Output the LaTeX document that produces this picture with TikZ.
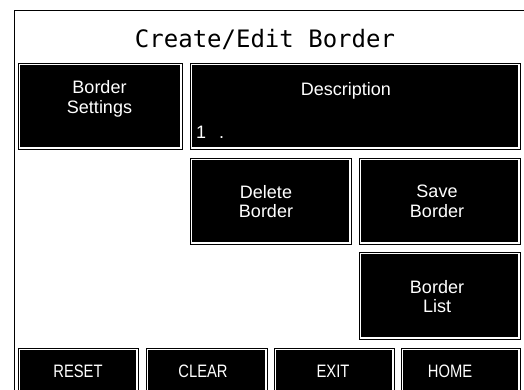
\documentclass[tikz,border=0pt]{standalone}
\usepackage{fontspec}
\setmainfont{Liberation Sans}
\newfontfamily\titlefont{DejaVu Sans Mono}
\newfontfamily\capsfont[FakeStretch=0.82]{Liberation Sans}
\begin{document}
\begin{tikzpicture}[x=1pt,y=-1pt,
  btnbox/.style={draw=black, line width=1pt, double=white, double distance=1.8pt, fill=black, inner sep=0pt},
  lbl/.style={text=white, font=\fontsize{18}{19.5}\selectfont, align=center, inner sep=0pt},
  capslbl/.style={text=white, font=\capsfont\fontsize{18}{19.5}\selectfont, inner sep=0pt, anchor=base},
  frameline/.style={line width=1.8pt, line cap=rect}]
\useasboundingbox (0,0) rectangle (524,389);
% outer frame
\coordinate (fbl) at (14.5,400);
\coordinate (ftl) at (14.5,10.5);
\coordinate (ftr) at (530,10.5);
\draw[frameline] (fbl) -- (ftl) -- (ftr);
% title
\node[font=\titlefont\fontsize{24}{26}\selectfont, anchor=base, inner sep=0pt] (title) at (265,47) {Create/Edit Border};
% buttons: sizes = outer box minus 3.8
\newcommand\mkbtn[5]{%
  \node[btnbox, anchor=north west, minimum width=#4-#2-3.8pt, minimum height=#5-#3-3.8pt] (#1) at (#2+1.9,#3+1.9) {};}
\mkbtn{settings}{17}{62}{182}{149}
\mkbtn{desc}{189}{62}{520}{149}
\mkbtn{delete}{189}{157}{351}{244}
\mkbtn{save}{358}{157}{520}{244}
\mkbtn{list}{358}{251}{520}{339}
\mkbtn{reset}{17}{347}{138}{400}
\mkbtn{clear}{145}{347}{267}{400}
\mkbtn{exit}{273}{347}{394}{400}
\mkbtn{home}{400}{347}{520}{400}
% labels
\node[lbl] (settingsT) at (99.5,99) {Border\\Settings};
\node[lbl, anchor=base] (descT) at (346,95) {Description};
\node[lbl, anchor=base west] (descV) at (196,138) {1\hspace{13pt}.};
\node[lbl] (deleteT) at (266,201.5) {Delete\\Border};
\node[lbl] (saveT) at (437,201.5) {Save\\Border};
\node[lbl] (listT) at (437,296.5) {Border\\List};
\node[capslbl] (resetT) at (78,377) {RESET};
\node[capslbl] (clearT) at (203,377) {CLEAR};
\node[capslbl] (exitT) at (333,377) {EXIT};
\node[capslbl] (homeT) at (450,377) {HOME};
\end{tikzpicture}
\end{document}
